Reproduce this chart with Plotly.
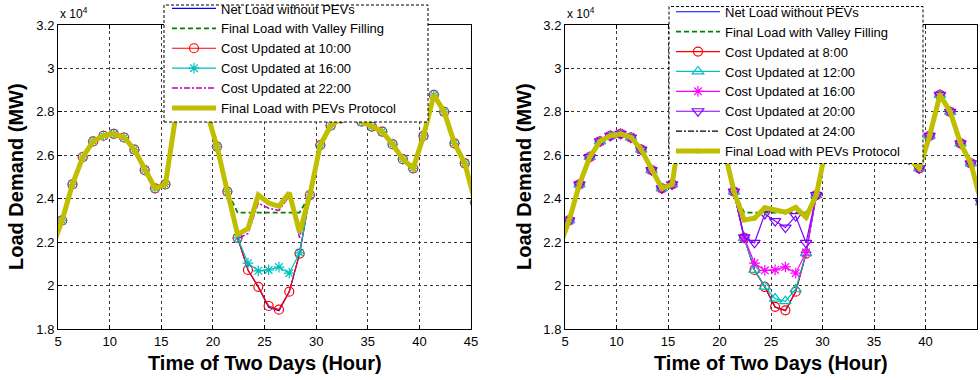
import plotly.graph_objects as go

# ---------------- data (load in units of 10^4 MW) ----------------
hours = [4.4, 5.4, 6.4, 7.4, 8.4, 9.4, 10.4, 11.4, 12.4, 13.4, 14.4, 15.4, 16.4, 17.4,
         18.4, 19.4, 20.4, 21.4, 22.4, 23.4, 24.4, 25.4, 26.4, 27.4, 28.4, 29.4, 30.4,
         31.4, 32.4, 33.4, 34.4, 35.4, 36.4, 37.4, 38.4, 39.4, 40.4, 41.4, 42.4, 43.4,
         44.4, 45.4]

net_load = [2.170, 2.300, 2.466, 2.592, 2.664, 2.690, 2.699, 2.682, 2.626, 2.532, 2.448,
            2.466, 2.780, 2.900, 2.870, 2.800, 2.640, 2.433, 2.220, 2.072, 1.994, 1.900,
            1.884, 1.972, 2.147, 2.417, 2.647, 2.736, 2.770, 2.780, 2.755, 2.732, 2.709,
            2.651, 2.582, 2.540, 2.689, 2.878, 2.800, 2.655, 2.563, 2.383]

# values inside the night valley (hours 22.4 .. 28.4); outside it every series equals net load
valley_filling = [2.336, 2.336, 2.336, 2.336, 2.336, 2.336, 2.336]

# left chart
left_cost_10 = [2.220, 2.072, 1.994, 1.906, 1.889, 1.972, 2.147]
left_cost_16 = [2.220, 2.103, 2.068, 2.072, 2.085, 2.057, 2.151]
left_cost_22 = [2.215, 2.240, 2.380, 2.356, 2.346, 2.412, 2.220]
left_final = [2.235, 2.262, 2.417, 2.380, 2.365, 2.427, 2.245]

# right chart
right_cost_08 = [2.220, 2.072, 1.994, 1.902, 1.886, 1.972, 2.147]
right_cost_12 = [2.220, 2.072, 1.995, 1.940, 1.928, 1.983, 2.149]
right_cost_16 = [2.220, 2.103, 2.070, 2.072, 2.086, 2.057, 2.153]
right_cost_20 = [2.222, 2.197, 2.330, 2.297, 2.267, 2.320, 2.197]
right_cost_24 = [2.300, 2.308, 2.355, 2.345, 2.337, 2.358, 2.312]
right_final = [2.302, 2.310, 2.358, 2.348, 2.338, 2.360, 2.315]

x_ticks = [5, 10, 15, 20, 25, 30, 35, 40, 45]
y_ticks = [1.8, 2.0, 2.2, 2.4, 2.6, 2.8, 3.0, 3.2]
y_tick_text = ["1.8", "2", "2.2", "2.4", "2.6", "2.8", "3", "3.2"]

V0, V1 = 18, 25  # index range of the valley (22.4 .. 28.4)


def with_valley(vals):
    return net_load[:V0] + list(vals) + net_load[V1:]


W, H = 980, 380
FONT = "Liberation Sans, Arial, Helvetica, sans-serif"


def px_x(p):
    return p / W


def px_y(p):
    return 1 - p / H


fig = go.Figure()


def add(y, name, color, xa, ya, leg, dash="solid", width=1.2, symbol=None, msize=9):
    mode = "lines+markers" if symbol else "lines"
    tr = go.Scatter(x=hours, y=y, name=name, mode=mode, xaxis=xa, yaxis=ya, legend=leg,
                    line=dict(color=color, width=width, dash=dash))
    if symbol:
        tr.marker = dict(symbol=symbol, size=msize, color=color,
                         line=dict(color=color, width=1.2))
    fig.add_trace(tr)


# ---- left chart ----
add(net_load, "Net Load without PEVs", "#0000FF", "x", "y", "legend")
add(with_valley(valley_filling), "Final Load with Valley Filling", "#008000", "x", "y", "legend",
    dash="5px,3px", width=1.8)
add(with_valley(left_cost_10), "Cost Updated at 10:00", "#FF0000", "x", "y", "legend",
    symbol="circle-open", msize=9)
add(with_valley(left_cost_16), "Cost Updated at 16:00", "#00BFBF", "x", "y", "legend",
    symbol="asterisk-open", msize=9)
add(with_valley(left_cost_22), "Cost Updated at 22:00", "#BF00BF", "x", "y", "legend",
    dash="6px,2px,2px,2px", width=1.5)
add(with_valley(left_final), "Final Load with PEVs Protocol", "#BFBF00", "x", "y", "legend",
    width=5)

# ---- right chart ----
add(net_load, "Net Load without PEVs", "#0000FF", "x2", "y2", "legend2")
add(with_valley(valley_filling), "Final Load with Valley Filling", "#008000", "x2", "y2", "legend2",
    dash="5px,3px", width=1.8)
add(with_valley(right_cost_08), "Cost Updated at 8:00", "#FF0000", "x2", "y2", "legend2",
    symbol="circle-open", msize=9)
add(with_valley(right_cost_12), "Cost Updated at 12:00", "#00BFBF", "x2", "y2", "legend2",
    symbol="triangle-up-open", msize=10)
add(with_valley(right_cost_16), "Cost Updated at 16:00", "#FF00FF", "x2", "y2", "legend2",
    symbol="asterisk-open", msize=9)
add(with_valley(right_cost_20), "Cost Updated at 20:00", "#7F00FF", "x2", "y2", "legend2",
    symbol="triangle-down-open", msize=10)
add(with_valley(right_cost_24), "Cost Updated at 24:00", "#000000", "x2", "y2", "legend2",
    dash="6px,2px,2px,2px", width=1.2)
add(with_valley(right_final), "Final Load with PEVs Protocol", "#BFBF00", "x2", "y2", "legend2",
    width=5, symbol="circle", msize=4)

axis_common = dict(showline=True, linecolor="black", linewidth=1, mirror="ticks",
                   ticks="inside", ticklen=4, tickcolor="black", tickwidth=1,
                   showgrid=True, gridcolor="#3a3a3a", gridwidth=1, griddash="3px,3px",
                   zeroline=False, tickfont=dict(family=FONT, size=13, color="black"))

xdom_l = [px_x(58), px_x(471)]
xdom_r = [px_x(565), px_x(977)]
ydom = [px_y(329), px_y(25)]

LEG_FONT = dict(family=FONT, size=13, color="black")

fig.update_layout(
    width=W, height=H, autosize=False,
    margin=dict(l=0, r=0, t=0, b=0, autoexpand=False),
    paper_bgcolor="white", plot_bgcolor="white",
    font=dict(family=FONT, color="black"),
    xaxis=dict(domain=xdom_l, range=[5, 45], tickvals=x_ticks, anchor="y", **axis_common),
    yaxis=dict(domain=ydom, range=[1.8, 3.2], tickvals=y_ticks, ticktext=y_tick_text,
               anchor="x", **axis_common),
    xaxis2=dict(domain=xdom_r, range=[5, 45], tickvals=x_ticks, anchor="y2", **axis_common),
    yaxis2=dict(domain=ydom, range=[1.8, 3.2], tickvals=y_ticks, ticktext=y_tick_text,
                anchor="x2", **axis_common),
    legend=dict(x=px_x(167), y=px_y(-6.5), xanchor="left", yanchor="top",
                bgcolor="rgba(0,0,0,0)", borderwidth=0, itemwidth=44,
                font=LEG_FONT, tracegroupgap=0),
    legend2=dict(x=px_x(671), y=px_y(-3.2), xanchor="left", yanchor="top",
                 bgcolor="rgba(0,0,0,0)", borderwidth=0, itemwidth=44,
                 font=LEG_FONT, tracegroupgap=0),
    showlegend=True,
)

# legend boxes (white, dashed border) drawn above the data
for (x0, y0, x1, y1) in [(164, 5, 428, 122), (669, 6.5, 923, 163.5)]:
    fig.add_shape(type="rect", xref="paper", yref="paper",
                  x0=px_x(x0), x1=px_x(x1), y0=px_y(y1), y1=px_y(y0),
                  fillcolor="white", line=dict(color="black", width=1, dash="3px,2px"),
                  layer="above")

annotations = []
for xl, xc, yc in [(58, 264.5, 363), (565, 771, 363)]:
    annotations.append(dict(text="x 10<sup>4</sup>", xref="paper", yref="paper",
                            x=px_x(xl), y=px_y(13), xanchor="left", yanchor="middle",
                            showarrow=False, font=dict(family=FONT, size=12, color="black")))
    annotations.append(dict(text="<b>Time of Two Days (Hour)</b>", xref="paper", yref="paper",
                            x=px_x(xc), y=px_y(yc), xanchor="center", yanchor="middle",
                            showarrow=False, font=dict(family=FONT, size=20, color="black")))
for xc in [16, 524]:
    annotations.append(dict(text="<b>Load Demand (MW)</b>", xref="paper", yref="paper",
                            x=px_x(xc), y=px_y(177), xanchor="center", yanchor="middle",
                            textangle=-90, showarrow=False,
                            font=dict(family=FONT, size=20, color="black")))
fig.update_layout(annotations=annotations)

fig.write_html("out.html")
